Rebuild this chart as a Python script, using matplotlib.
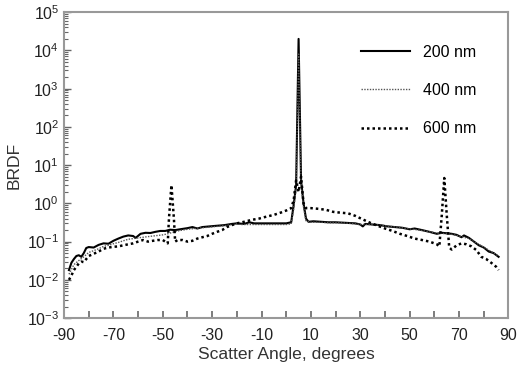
import matplotlib
matplotlib.use("Agg")
import matplotlib.pyplot as plt
from matplotlib.ticker import LogLocator, MultipleLocator, NullFormatter

plt.rcParams["font.family"] = ["Liberation Sans", "DejaVu Sans"]
plt.rcParams["mathtext.fontset"] = "custom"
plt.rcParams["mathtext.rm"] = "Liberation Sans"
plt.rcParams["mathtext.default"] = "regular"
plt.rcParams["axes.unicode_minus"] = False

# 200 nm (plna cara)
angle_200 = [-88, -87, -86, -85, -84, -83, -82, -81, -80, -78, -76, -74, -72, -70,
             -68, -66, -64, -62, -61, -59, -57, -55, -53, -51, -49, -47, -45, -43,
             -40, -38, -36, -34, -31, -28, -25, -22, -20, -17, -15, -13, -10, -5,
             0, 2, 3, 4, 5, 6, 7, 8, 9, 11, 14, 17, 20, 24, 28, 30, 31, 32, 35, 38,
             41, 44, 47, 50, 52, 55, 58, 61, 63, 65, 67, 69, 71, 72, 74, 76, 78,
             80, 82, 84, 86]
brdf_200 = [0.018, 0.028, 0.035, 0.042, 0.044, 0.040, 0.050, 0.068, 0.072, 0.070,
            0.082, 0.090, 0.088, 0.105, 0.12, 0.135, 0.145, 0.14, 0.125, 0.16, 0.17,
            0.168, 0.18, 0.19, 0.19, 0.205, 0.20, 0.21, 0.225, 0.24, 0.22, 0.24,
            0.25, 0.26, 0.27, 0.29, 0.30, 0.29, 0.32, 0.30, 0.30, 0.30, 0.30, 0.32,
            0.9, 3, 20000, 4, 1.0, 0.4, 0.33, 0.34, 0.33, 0.32, 0.32, 0.31, 0.30,
            0.28, 0.25, 0.29, 0.28, 0.27, 0.25, 0.24, 0.23, 0.21, 0.22, 0.20, 0.18,
            0.16, 0.17, 0.165, 0.16, 0.15, 0.13, 0.145, 0.125, 0.10, 0.08, 0.07,
            0.055, 0.05, 0.04]

# 400 nm (jemne teckovana)
angle_400 = [-88, -86, -84, -82, -80, -78, -76, -74, -72, -70, -68, -66, -64, -62,
             -60, -58, -56, -54, -52, -50, -48, -46, -44, -42, -40, -37, -34, -31,
             -28, -25, -22, -20, -18, -15, -10, -5, 0, 2, 3, 4, 5, 6, 7, 8, 10, 14,
             18, 22, 26, 30, 34, 38, 42, 46, 50, 54, 58, 62, 66, 70, 74, 78, 82, 86]
brdf_400 = [0.014, 0.025, 0.032, 0.040, 0.052, 0.058, 0.065, 0.075, 0.080, 0.088,
            0.095, 0.105, 0.115, 0.12, 0.125, 0.13, 0.135, 0.14, 0.145, 0.15, 0.16,
            0.175, 0.19, 0.20, 0.21, 0.22, 0.23, 0.24, 0.25, 0.26, 0.28, 0.29, 0.28,
            0.28, 0.28, 0.28, 0.28, 0.29, 0.7, 2.5, 8000, 3, 0.8, 0.35, 0.32, 0.32,
            0.31, 0.31, 0.30, 0.28, 0.28, 0.27, 0.25, 0.235, 0.215, 0.20, 0.18,
            0.165, 0.16, 0.14, 0.12, 0.085, 0.06, 0.042]

# 600 nm (hrube teckovana)
angle_600 = [-88, -87, -86, -85, -84, -83, -82, -81, -80, -78, -76, -74, -72, -70,
             -68, -66, -64, -62, -60, -58, -56, -54, -52, -50, -48, -47.5, -46.5,
             -45.5, -45, -44, -42, -40, -38, -36, -34, -32, -30, -28, -26, -24, -22,
             -20, -17, -14, -11, -8, -5, -2, 0, 2, 3, 4, 5, 6, 7, 8, 10, 13, 16, 19,
             22, 25, 28, 31, 34, 37, 40, 43, 46, 49, 52, 55, 58, 61, 62, 63, 64, 65,
             66, 67, 69, 71, 73, 75, 77, 79, 81, 83, 85, 86]
brdf_600 = [0.010, 0.013, 0.018, 0.022, 0.027, 0.030, 0.029, 0.035, 0.042, 0.048,
            0.055, 0.065, 0.070, 0.073, 0.075, 0.080, 0.085, 0.09, 0.10, 0.11, 0.10,
            0.105, 0.11, 0.11, 0.09, 0.4, 3.0, 0.4, 0.10, 0.11, 0.11, 0.10, 0.105,
            0.12, 0.13, 0.14, 0.16, 0.18, 0.20, 0.24, 0.27, 0.30, 0.33, 0.37, 0.40,
            0.45, 0.50, 0.58, 0.65, 0.75, 1.2, 4, 2, 5, 1, 0.75, 0.75, 0.72, 0.68,
            0.60, 0.57, 0.55, 0.47, 0.38, 0.31, 0.26, 0.22, 0.19, 0.16, 0.14, 0.12,
            0.11, 0.10, 0.085, 0.075, 0.5, 4.6, 0.5, 0.07, 0.062, 0.08, 0.09, 0.085,
            0.075, 0.06, 0.04, 0.035, 0.028, 0.022, 0.018]

fig = plt.figure(figsize=(5.18, 3.69), dpi=100)
ax = fig.add_axes([0.1236, 0.138, 0.858, 0.829])

ax.plot(angle_200, brdf_200, color="black", lw=1.5, ls="-", label="200 nm")
ax.plot(angle_400, brdf_400, color="#555555", lw=1.0, ls=(0, (1, 1)), label="400 nm")
ax.plot(angle_600, brdf_600, color="black", lw=1.8, ls=(0, (1, 1.2)), label="600 nm")

ax.set_yscale("log")
ax.set_ylim(1e-3, 1e5)
ax.set_xlim(-90, 90)
ax.xaxis.set_minor_locator(MultipleLocator(10))
ax.set_xticks(range(-90, 91, 20))
ax.yaxis.set_major_locator(LogLocator(base=10, numticks=20))
ax.yaxis.set_minor_locator(LogLocator(base=10, subs=range(2, 10), numticks=20))
ax.yaxis.set_minor_formatter(NullFormatter())

ax.tick_params(axis="both", which="both", direction="in", labelsize=11.5,
               labelcolor="#222222", color="#666666", top=False, right=False)
ax.tick_params(axis="x", which="both", length=5, width=1.2)
ax.tick_params(axis="y", which="major", length=5, width=1.0)
ax.tick_params(axis="y", which="minor", length=3, width=0.8)
ax.tick_params(axis="x", pad=7)

for sp in ax.spines.values():
    sp.set_color("#999999")
    sp.set_linewidth(1.5)

ax.set_xlabel("Scatter Angle, degrees", fontsize=12.6, color="#333333", labelpad=3)
ax.set_ylabel("BRDF", fontsize=12.6, color="#333333")

leg = ax.legend(loc="upper right", frameon=False, fontsize=11.5, handlelength=3.1,
                labelspacing=1.45, bbox_to_anchor=(0.96, 0.94))

fig.savefig("out.png", dpi=100)
